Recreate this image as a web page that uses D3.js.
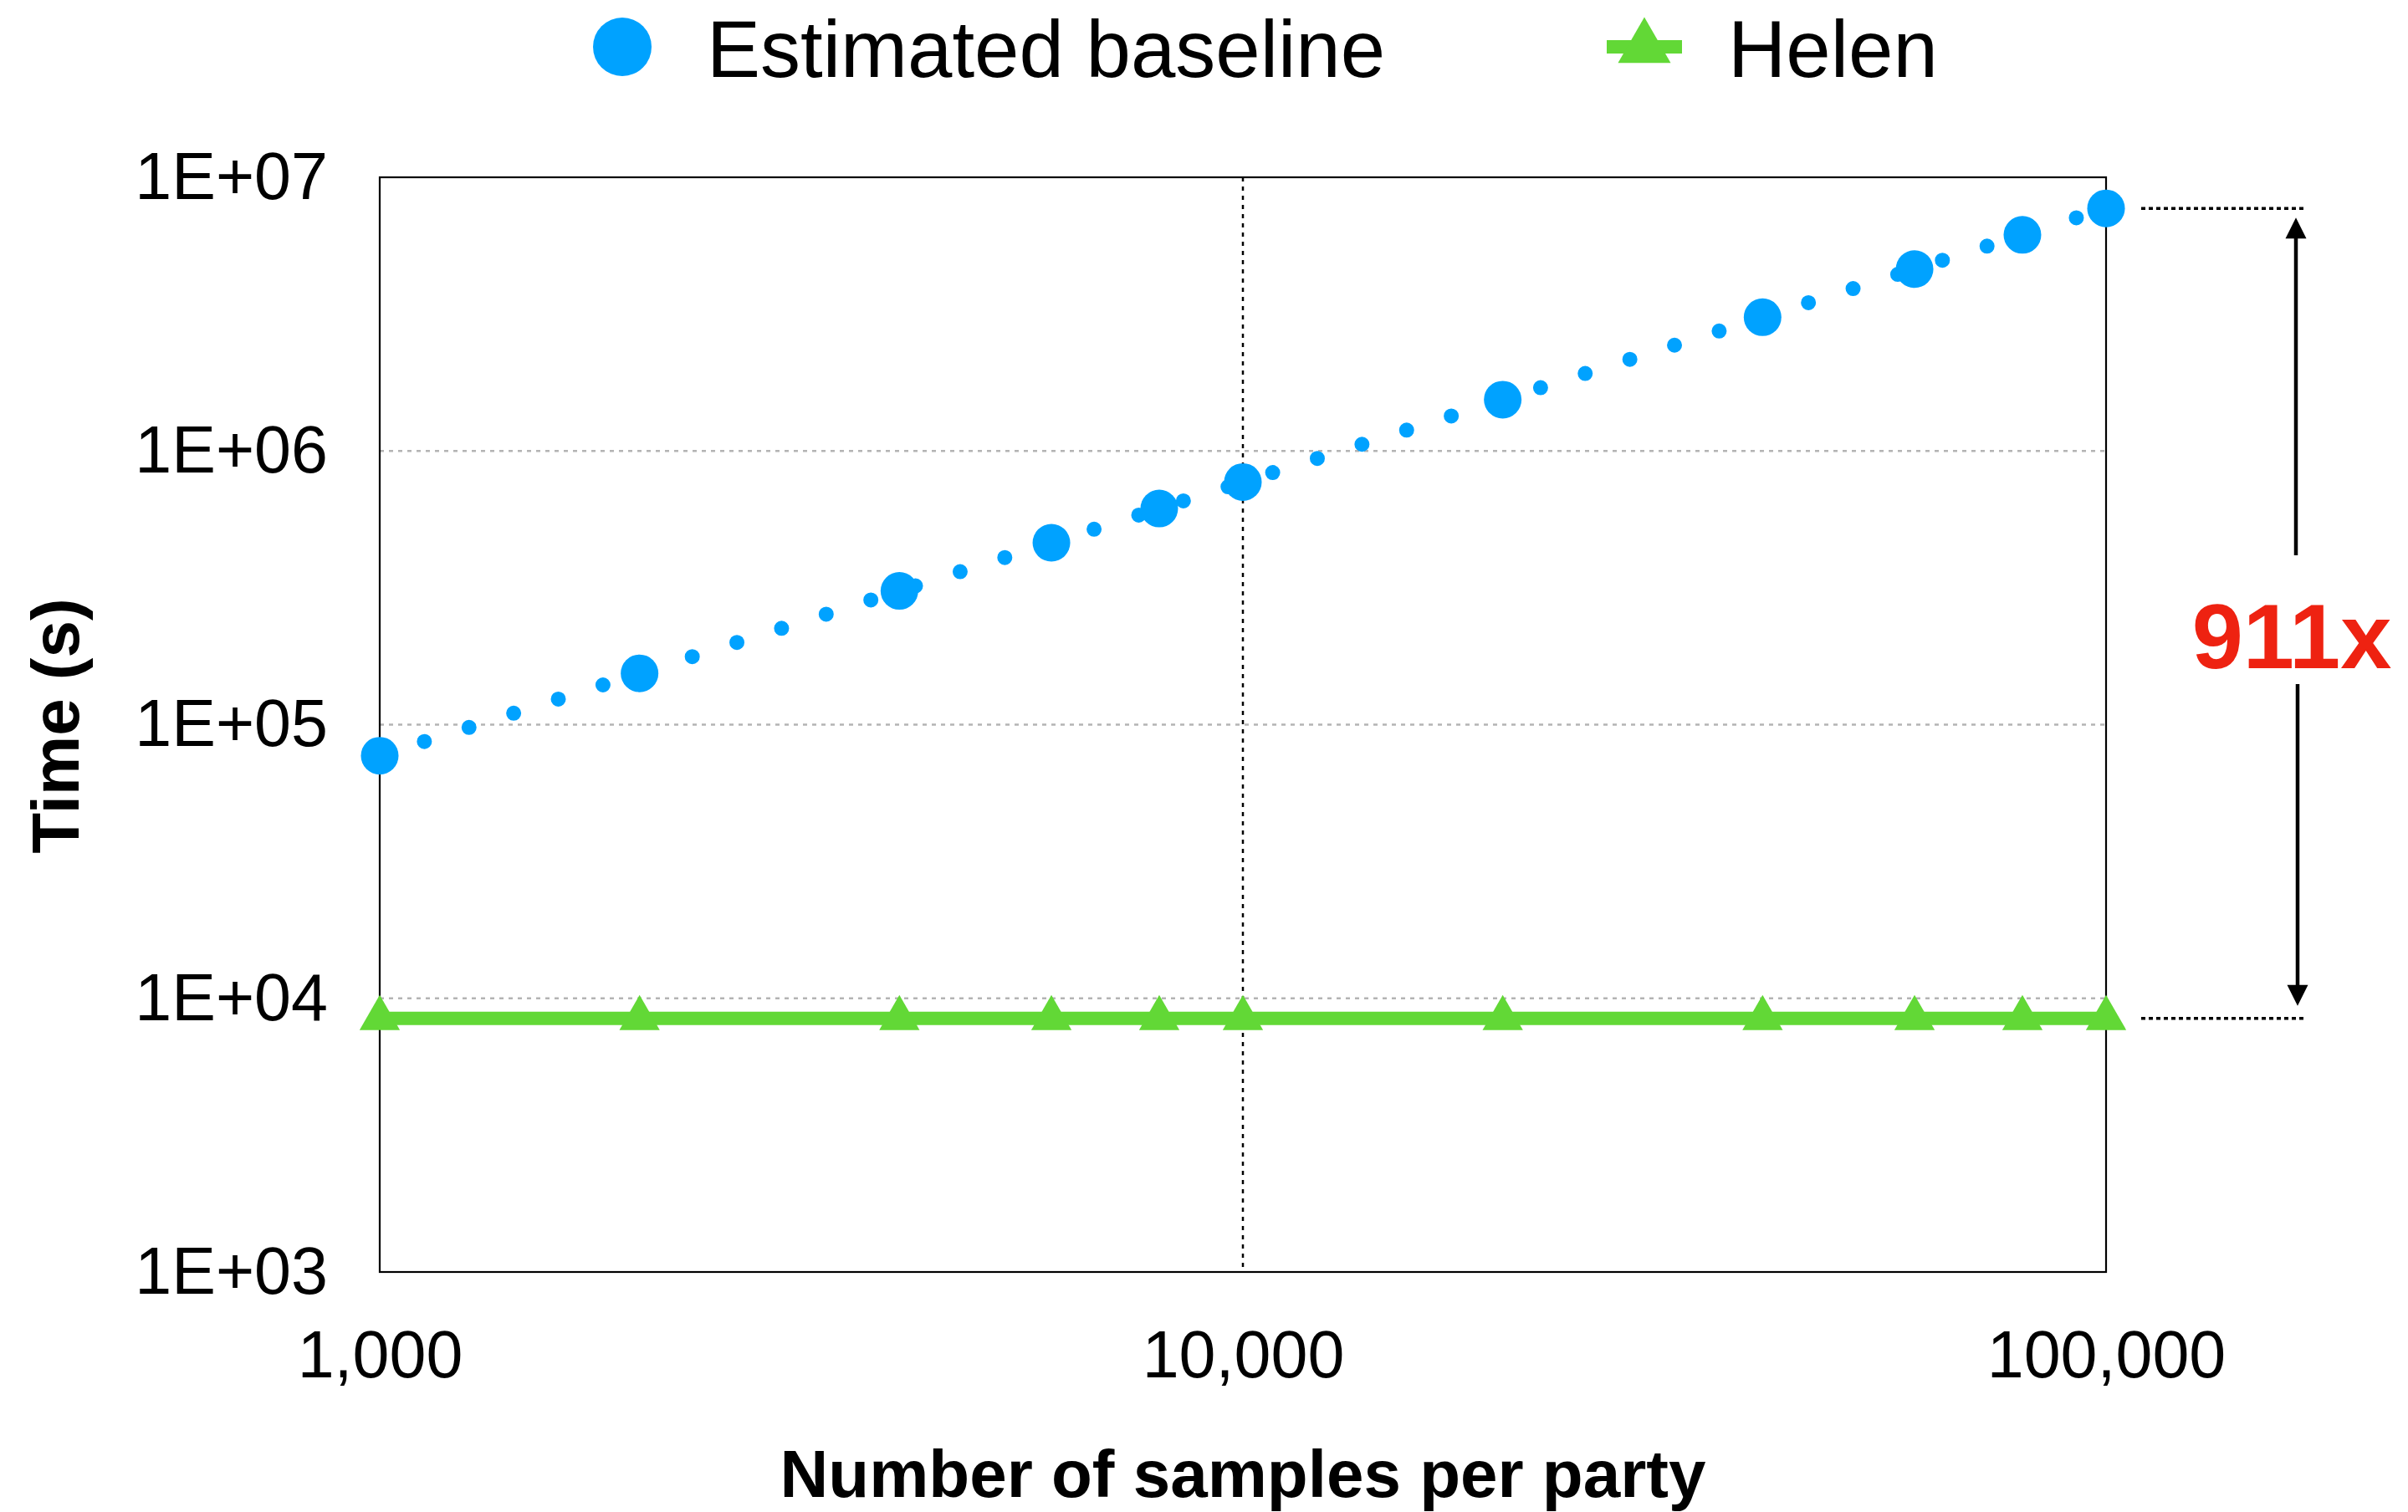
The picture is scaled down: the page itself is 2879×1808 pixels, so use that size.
<!DOCTYPE html>
<html>
<head>
<meta charset="utf-8">
<script src="https://cdn.jsdelivr.net/npm/d3@7"></script>
<style>
  html, body { margin: 0; padding: 0; background: #fff; }
  svg { display: block; font-family: "Liberation Sans", Arial, Helvetica, sans-serif; }
</style>
</head>
<body>
<svg id="chart" width="2879" height="1808"></svg>
<script>
// Samples per party (x) and running time in seconds (y)
const sampleCounts = [1000, 2000, 4000, 6000, 8000, 10000, 20000, 40000, 60000, 80000, 100000];
const baselineTimes = [77000, 154000, 308000, 462000, 616000, 770000, 1540000, 3080000, 4620000, 6160000, 7700000];
const helenTimes = [8450, 8450, 8450, 8450, 8450, 8450, 8450, 8450, 8450, 8450, 8450];

const seriesNames = ["Estimated baseline", "Helen"];

const yTickValues = [1e3, 1e4, 1e5, 1e6, 1e7];
const yTickLabels = ["1E+03", "1E+04", "1E+05", "1E+06", "1E+07"];
const xTickValues = [1000, 10000, 100000];
const xTickLabels = ["1,000", "10,000", "100,000"];

const BLUE = "#00a2ff";
const GREEN = "#62d836";
const RED = "#ee2211";

const svg = d3.select("#chart");
svg.append("rect").attr("width", 2879).attr("height", 1808).attr("fill", "#fff");

const plot = { left: 454, right: 2518, top: 212, bottom: 1521 };

const x = d3.scaleLog().domain([1000, 100000]).range([plot.left, plot.right]);
const y = d3.scaleLog().domain([1e3, 1e7]).range([plot.bottom, plot.top]);

// Horizontal grid lines at inner decades
svg.append("g").selectAll("line")
  .data(yTickValues.slice(1, -1))
  .join("line")
  .attr("x1", plot.left).attr("x2", plot.right)
  .attr("y1", d => y(d)).attr("y2", d => y(d))
  .attr("stroke", "#b4b4b4").attr("stroke-width", 2.5)
  .attr("stroke-dasharray", "5,6");

// Vertical grid line at 10,000
svg.append("g").selectAll("line")
  .data(xTickValues.slice(1, -1))
  .join("line")
  .attr("x1", d => x(d)).attr("x2", d => x(d))
  .attr("y1", plot.top).attr("y2", plot.bottom)
  .attr("stroke", "#000").attr("stroke-width", 2.5)
  .attr("stroke-dasharray", "5,6");

// Plot frame
svg.append("rect")
  .attr("x", plot.left).attr("y", plot.top)
  .attr("width", plot.right - plot.left).attr("height", plot.bottom - plot.top)
  .attr("fill", "none").attr("stroke", "#000").attr("stroke-width", 2.2);

// Axes
const yAxis = d3.axisLeft(y)
  .tickValues(yTickValues)
  .tickFormat((d, i) => yTickLabels[i])
  .tickSize(0).tickPadding(62);
const gy = svg.append("g").attr("transform", `translate(${plot.left},0)`).call(yAxis);
gy.select(".domain").remove();
gy.selectAll("text").attr("font-size", 79).attr("font-family", "Liberation Sans, Arial, sans-serif").attr("fill", "#000");

const xAxis = d3.axisBottom(x)
  .tickValues(xTickValues)
  .tickFormat((d, i) => xTickLabels[i])
  .tickSize(0).tickPadding(70);
const gx = svg.append("g").attr("transform", `translate(0,${plot.bottom})`).call(xAxis);
gx.select(".domain").remove();
gx.selectAll("text").attr("font-size", 79).attr("font-family", "Liberation Sans, Arial, sans-serif").attr("fill", "#000");

// Axis titles
svg.append("text")
  .attr("transform", "translate(94,868) rotate(-90)")
  .attr("text-anchor", "middle")
  .attr("font-size", 80).attr("font-weight", "bold")
  .text("Time (s)");

svg.append("text")
  .attr("x", (plot.left + plot.right) / 2).attr("y", 1790)
  .attr("text-anchor", "middle")
  .attr("font-size", 80).attr("font-weight", "bold")
  .text("Number of samples per party");

// Estimated baseline: dotted line of round dots plus large circle markers
const line = d3.line().x(d => x(d[0])).y(d => y(d[1]));
const baselineData = sampleCounts.map((n, i) => [n, baselineTimes[i]]);
const helenData = sampleCounts.map((n, i) => [n, helenTimes[i]]);

svg.append("path")
  .datum(baselineData)
  .attr("d", line)
  .attr("fill", "none")
  .attr("stroke", BLUE).attr("stroke-width", 18)
  .attr("stroke-linecap", "round")
  .attr("stroke-dasharray", "0,56");

svg.append("g").selectAll("circle")
  .data(baselineData)
  .join("circle")
  .attr("cx", d => x(d[0])).attr("cy", d => y(d[1]))
  .attr("r", 22.5).attr("fill", BLUE);

// Helen: solid line with triangle markers
svg.append("path")
  .datum(helenData)
  .attr("d", line)
  .attr("fill", "none")
  .attr("stroke", GREEN).attr("stroke-width", 16);

const tri = d3.symbol().type(d3.symbolTriangle).size(1010);
svg.append("g").selectAll("path")
  .data(helenData)
  .join("path")
  .attr("transform", d => `translate(${x(d[0])},${y(d[1])})`)
  .attr("d", tri)
  .attr("fill", GREEN);

// Speed-up annotation on the right
const yTop = y(baselineTimes[baselineTimes.length - 1]);
const yBot = y(helenTimes[helenTimes.length - 1]);
const ratio = Math.round(baselineTimes[baselineTimes.length - 1] / helenTimes[helenTimes.length - 1]);
const ann = svg.append("g");
[yTop, yBot].forEach(yy => {
  ann.append("line")
    .attr("x1", 2560).attr("x2", 2757)
    .attr("y1", yy).attr("y2", yy)
    .attr("stroke", "#000").attr("stroke-width", 3.5)
    .attr("stroke-dasharray", "5,4");
});
const arrowX = 2745;
const headH = 25, headW = 25;
const topTip = yTop + 11, botTip = yBot - 15;
const textY = 799;
ann.append("line").attr("x1", arrowX).attr("x2", arrowX)
  .attr("y1", topTip + headH - 2).attr("y2", 664)
  .attr("stroke", "#000").attr("stroke-width", 4.5);
ann.append("line").attr("x1", arrowX + 2).attr("x2", arrowX + 2)
  .attr("y1", 818).attr("y2", botTip - headH + 2)
  .attr("stroke", "#000").attr("stroke-width", 4.5);
ann.append("path")
  .attr("d", `M${arrowX},${topTip} L${arrowX - headW / 2},${topTip + headH} L${arrowX + headW / 2},${topTip + headH} Z`)
  .attr("fill", "#000");
ann.append("path")
  .attr("d", `M${arrowX + 2},${botTip} L${arrowX + 2 - headW / 2},${botTip - headH} L${arrowX + 2 + headW / 2},${botTip - headH} Z`)
  .attr("fill", "#000");
ann.append("text")
  .attr("x", 2740).attr("y", textY)
  .attr("text-anchor", "middle")
  .attr("font-size", 110).attr("font-weight", "bold")
  .attr("fill", RED)
  .text(ratio + "x");

// Legend
const legend = svg.append("g");
legend.append("circle").attr("cx", 744).attr("cy", 56).attr("r", 35).attr("fill", BLUE);
legend.append("text").attr("x", 845).attr("y", 92)
  .attr("font-size", 96).text(seriesNames[0]);
legend.append("line").attr("x1", 1921).attr("x2", 2011).attr("y1", 56).attr("y2", 56)
  .attr("stroke", GREEN).attr("stroke-width", 16);
legend.append("path")
  .attr("transform", "translate(1966,57)")
  .attr("d", d3.symbol().type(d3.symbolTriangle).size(1719))
  .attr("fill", GREEN);
legend.append("text").attr("x", 2066).attr("y", 92)
  .attr("font-size", 96).text(seriesNames[1]);
</script>
</body>
</html>
